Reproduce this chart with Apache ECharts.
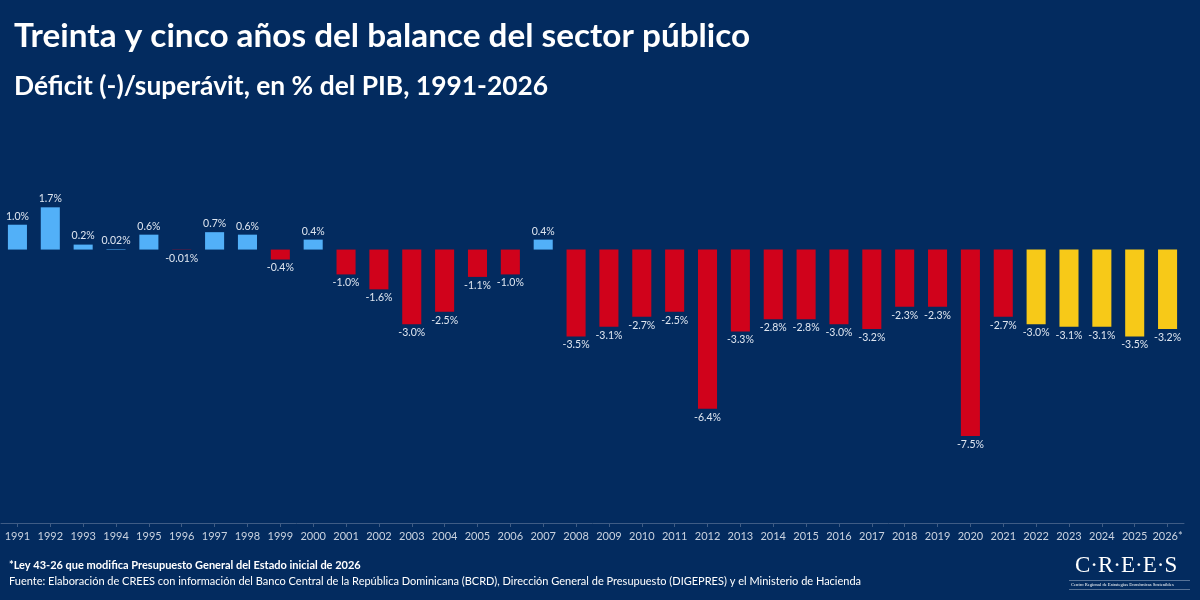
<!DOCTYPE html>
<html><head><meta charset="utf-8">
<script src="https://cdn.jsdelivr.net/npm/echarts@6/dist/echarts.min.js"></script>
<style>html,body{margin:0;padding:0;background:#032b5f;}#c{width:1200px;height:600px;}</style>
</head><body><div id="c"></div>
<script>
const years = ['1991','1992','1993','1994','1995','1996','1997','1998','1999','2000','2001','2002','2003','2004','2005','2006','2007','2008','2009','2010','2011','2012','2013','2014','2015','2016','2017','2018','2019','2020','2021','2022','2023','2024','2025','2026*'];
const balance = [1.0,1.7,0.2,0.02,0.6,-0.01,0.7,0.6,-0.4,0.4,-1.0,-1.6,-3.0,-2.5,-1.1,-1.0,0.4,-3.5,-3.1,-2.7,-2.5,-6.4,-3.3,-2.8,-2.8,-3.0,-3.2,-2.3,-2.3,-7.5,-2.7,-3.0,-3.1,-3.1,-3.5,-3.2];
const projectedFrom = '2022';

const BLUE = '#52b0f8', RED = '#d0021b', YELLOW = '#f7c918';
const fmt = v => (Math.abs(v) < 0.1 ? v.toFixed(2) : v.toFixed(1)) + '%';

const data = balance.map((v, i) => {
  const yr = parseInt(years[i]);
  const color = yr >= parseInt(projectedFrom) ? YELLOW : (v >= 0 ? BLUE : RED);
  return {
    value: v,
    itemStyle: { color },
    label: { position: v >= 0 ? 'top' : 'bottom' }
  };
});

const chart = echarts.init(document.getElementById('c'));
chart.setOption({
  backgroundColor: '#032b5f',
  animation: false,
  textStyle: { fontFamily: 'Lato' },
  title: [
    { text: 'Treinta y cinco años del balance del sector público', left: 9, top: 15,
      textStyle: { color: '#ffffff', fontSize: 33.3, fontWeight: 'bold', fontFamily: 'Lato' } },
    { text: 'Déficit (-)/superávit, en % del PIB, 1991-2026', left: 9, top: 68,
      textStyle: { color: '#ffffff', fontSize: 26.4, fontWeight: 'bold', fontFamily: 'Lato' } }
  ],
  grid: { left: 1, right: 16, top: 175, bottom: 77, containLabel: false },
  xAxis: {
    type: 'category', data: years,
    axisLine: { onZero: false, lineStyle: { color: '#3f5c85', width: 1 } },
    axisTick: { show: true, alignWithLabel: true, length: 4, lineStyle: { color: '#3f5c85' } },
    axisLabel: { color: '#c9d2df', fontSize: 11, margin: 8, fontFamily: 'Lato', interval: 0 }
  },
  yAxis: { type: 'value', min: -11, max: 3, show: false, splitLine: { show: false } },
  series: [{
    type: 'bar', data, barWidth: '58%',
    label: { show: true, color: '#dfe6f0', fontSize: 10.5, fontFamily: 'Lato', distance: 3,
      formatter: p => fmt(p.value) }
  }],
  graphic: [
    { type: 'text', left: 9, top: 560, style: { text: '*Ley 43-26 que modifica Presupuesto General del Estado inicial de 2026',
      fill: '#ffffff', font: 'bold 11px Lato' } },
    { type: 'text', left: 9, top: 576, style: { text: 'Fuente: Elaboración de CREES con información del Banco Central de la República Dominicana (BCRD), Dirección General de Presupuesto (DIGEPRES) y el Ministerio de Hacienda',
      fill: '#ffffff', font: '11px Lato' } },
    { type: 'text', left: 1075, top: 554, style: { text: 'C·R·E·E·S', fill: '#ffffff', font: '23px "Liberation Serif"' } },
    { type: 'line', shape: { x1: 1069, y1: 580.5, x2: 1190, y2: 580.5 }, style: { stroke: '#8fa2bd', lineWidth: 0.6 } },
    { type: 'text', left: 1071, top: 582.5, style: { text: 'Centro Regional de Estrategias Económicas Sostenibles', fill: '#ffffff', font: '4.6px "Liberation Serif"' } },
    { type: 'line', shape: { x1: 1069, y1: 589.5, x2: 1190, y2: 589.5 }, style: { stroke: '#8fa2bd', lineWidth: 0.6 } }
  ]
});
</script></body></html>
